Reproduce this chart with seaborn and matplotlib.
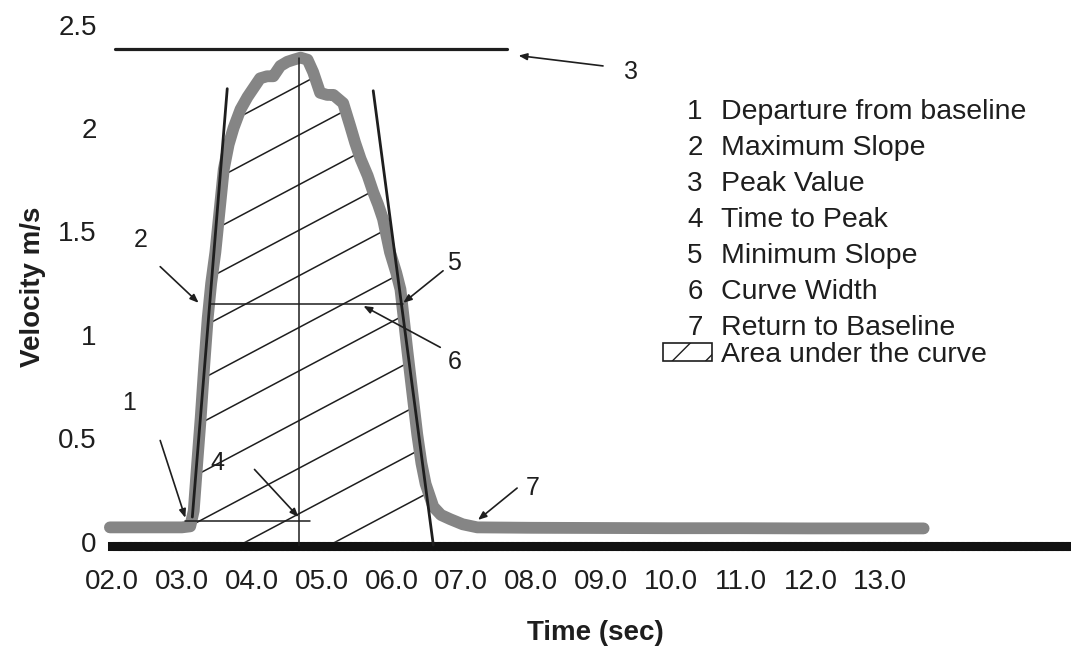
import numpy as np
import matplotlib.pyplot as plt
import seaborn as sns
from matplotlib.patches import Patch

# velocity trace
time_s = [1.97, 2.25, 2.50, 2.75, 3.00, 3.12, 3.17, 3.22, 3.27, 3.32, 3.37, 3.42,
          3.48, 3.54, 3.60, 3.67, 3.74, 3.84, 3.94, 4.04, 4.12, 4.22, 4.31, 4.41,
          4.51, 4.60, 4.70, 4.80, 4.88, 4.98, 5.08, 5.17, 5.24, 5.31, 5.41, 5.48,
          5.56, 5.66, 5.74, 5.81, 5.88, 5.98, 6.07, 6.13, 6.23, 6.30, 6.37, 6.43,
          6.49, 6.60, 6.71, 6.84, 7.02, 7.23, 8.0, 9.0, 10.0, 11.0, 12.0, 13.0, 13.62]
velocity = [0.07, 0.07, 0.07, 0.07, 0.07, 0.075, 0.15, 0.38, 0.60, 0.85, 1.08, 1.25,
            1.40, 1.60, 1.80, 1.92, 2.00, 2.09, 2.15, 2.20, 2.24, 2.25, 2.25, 2.30,
            2.32, 2.33, 2.34, 2.33, 2.27, 2.17, 2.16, 2.16, 2.14, 2.12, 2.01, 1.93,
            1.85, 1.77, 1.69, 1.63, 1.56, 1.40, 1.30, 1.22, 0.92, 0.72, 0.52, 0.38,
            0.28, 0.17, 0.13, 0.11, 0.085, 0.07, 0.068, 0.067, 0.066, 0.066, 0.065, 0.065, 0.065]

x_ticks = [2, 3, 4, 5, 6, 7, 8, 9, 10, 11, 12, 13]
x_tick_labels = ["02.0", "03.0", "04.0", "05.0", "06.0", "07.0",
                 "08.0", "09.0", "10.0", "11.0", "12.0", "13.0"]
y_ticks = [0, 0.5, 1, 1.5, 2, 2.5]
y_tick_labels = ["0", "0.5", "1", "1.5", "2", "2.5"]

# derived features of the curve
peak_value = 2.38
peak_line_t = [2.05, 7.66]
time_to_peak = 4.68
width_level = 1.15
width_t = [3.41, 6.17]
departure_level = 0.10
departure_t = [3.05, 4.84]
max_slope_t = [3.65, 3.15]
max_slope_v = [2.19, 0.12]
min_slope_t = [5.74, 6.60]
min_slope_v = [2.18, -0.015]

# hatch lines through the area (intercept at t=4.70, rise per second)
hatch_intercepts = [-0.09, 0.14, 0.36, 0.59, 0.83, 1.04, 1.29, 1.51, 1.73, 1.97, 2.21]
hatch_slope = 0.179

legend_items = ["Departure from baseline", "Maximum Slope", "Peak Value",
                "Time to Peak", "Minimum Slope", "Curve Width", "Return to Baseline"]

# number label position, arrow tail, arrow tip
callouts = {
    "1": ((2.24, 0.67), (2.69, 0.49), (3.05, 0.116)),
    "2": ((2.41, 1.46), (2.69, 1.33), (3.24, 1.155)),
    "3": ((9.43, 2.27), (9.03, 2.30), (7.82, 2.35)),
    "4": ((3.51, 0.38), (4.04, 0.35), (4.67, 0.12)),
    "5": ((6.89, 1.35), (6.74, 1.31), (6.17, 1.155)),
    "6": ((6.91, 0.87), (6.70, 0.94), (5.60, 1.14)),
    "7": ((8.02, 0.26), (7.80, 0.26), (7.24, 0.106)),
}

sns.set_style("white")
plt.rcParams['font.family'] = ['Liberation Sans', 'DejaVu Sans']
ink = "#1e1e1e"

fig = plt.figure(figsize=(10.71, 6.47), dpi=100)
ax = fig.add_axes([112 / 1071, 1 - 546 / 647, 1 - 112 / 1071, (546 - 20.4) / 647])

t = np.array(time_s)
v = np.array(velocity)

# area under the curve, hatched with clipped parallel lines
mask = (t >= 3.1) & (t <= 7.3)
area = ax.fill_between(t, v, 0, where=mask, facecolor="none", edgecolor="none")
clip_path = area.get_paths()[0]
tt = np.array([2.0, 8.0])
for c in hatch_intercepts:
    ln, = ax.plot(tt, c + hatch_slope * (tt - 4.70), color=ink, lw=1.1)
    ln.set_clip_path(clip_path, ax.transData)

sns.lineplot(x=time_s, y=velocity, ax=ax, color="#858585", lw=8.5,
             estimator=None, sort=False, clip_on=False, zorder=3)

ax.plot(peak_line_t, [peak_value, peak_value], color=ink, lw=2.3, zorder=4)
ax.plot([time_to_peak, time_to_peak], [-0.02, 2.34], color=ink, lw=1.1, zorder=4)
ax.plot(width_t, [width_level, width_level], color=ink, lw=1.1, zorder=4)
ax.plot(departure_t, [departure_level, departure_level], color=ink, lw=1.1, zorder=4)
ax.plot(max_slope_t, max_slope_v, color=ink, lw=2.0, zorder=4)
ax.plot(min_slope_t, min_slope_v, color=ink, lw=2.0, zorder=4, clip_on=False)

for num, (lab, tail, tip) in callouts.items():
    ax.annotate("", xy=tip, xytext=tail, zorder=5,
                arrowprops=dict(arrowstyle="-|>,head_length=0.5,head_width=0.2",
                                color=ink, lw=1.2, shrinkA=0, shrinkB=0))
    ax.text(lab[0], lab[1], num, fontsize=18, color=ink, ha="center", va="center")

ax.set_xlim(2.0, 15.73)
ax.set_ylim(-0.02, 2.52)
ax.set_xticks(x_ticks)
ax.set_xticklabels(x_tick_labels)
ax.set_yticks(y_ticks)
ax.set_yticklabels(y_tick_labels)
ax.tick_params(axis="x", length=0, pad=16.5, labelsize=20, labelcolor=ink)
ax.tick_params(axis="y", length=0, pad=11, labelsize=20, labelcolor=ink)

for side in ["top", "right", "left"]:
    ax.spines[side].set_visible(False)
ax.spines["bottom"].set_linewidth(6.5)
ax.spines["bottom"].set_color("#111111")
ax.spines["bottom"].set_linestyle((0, (0.5, 0.08)))

ax.set_xlabel("Time (sec)", fontsize=20, fontweight="bold", color=ink)
ax.set_ylabel("Velocity m/s", fontsize=20, fontweight="bold", color=ink)
ax.xaxis.set_label_coords(0.504, -0.14)
ax.yaxis.set_label_coords(-0.069, 0.493)

# numbered list of features
for i, item in enumerate(legend_items):
    y = 1 - (112 + 36 * i) / 647
    fig.text(695 / 1071, y, str(i + 1), fontsize=20, color=ink, ha="center", va="center")
    fig.text(721 / 1071, y, item, fontsize=20.5, color=ink, ha="left", va="center")

fig.legend(handles=[Patch(facecolor="white", edgecolor=ink, hatch="/", lw=1.2)],
           labels=["Area under the curve"], loc="center left",
           bbox_to_anchor=(663 / 1071, 1 - 355 / 647), frameon=False, fontsize=20.5,
           handlelength=1.73, handleheight=0.6, handletextpad=0.32,
           borderpad=0, borderaxespad=0, labelcolor=ink)

fig.savefig("out.png", dpi=100)
